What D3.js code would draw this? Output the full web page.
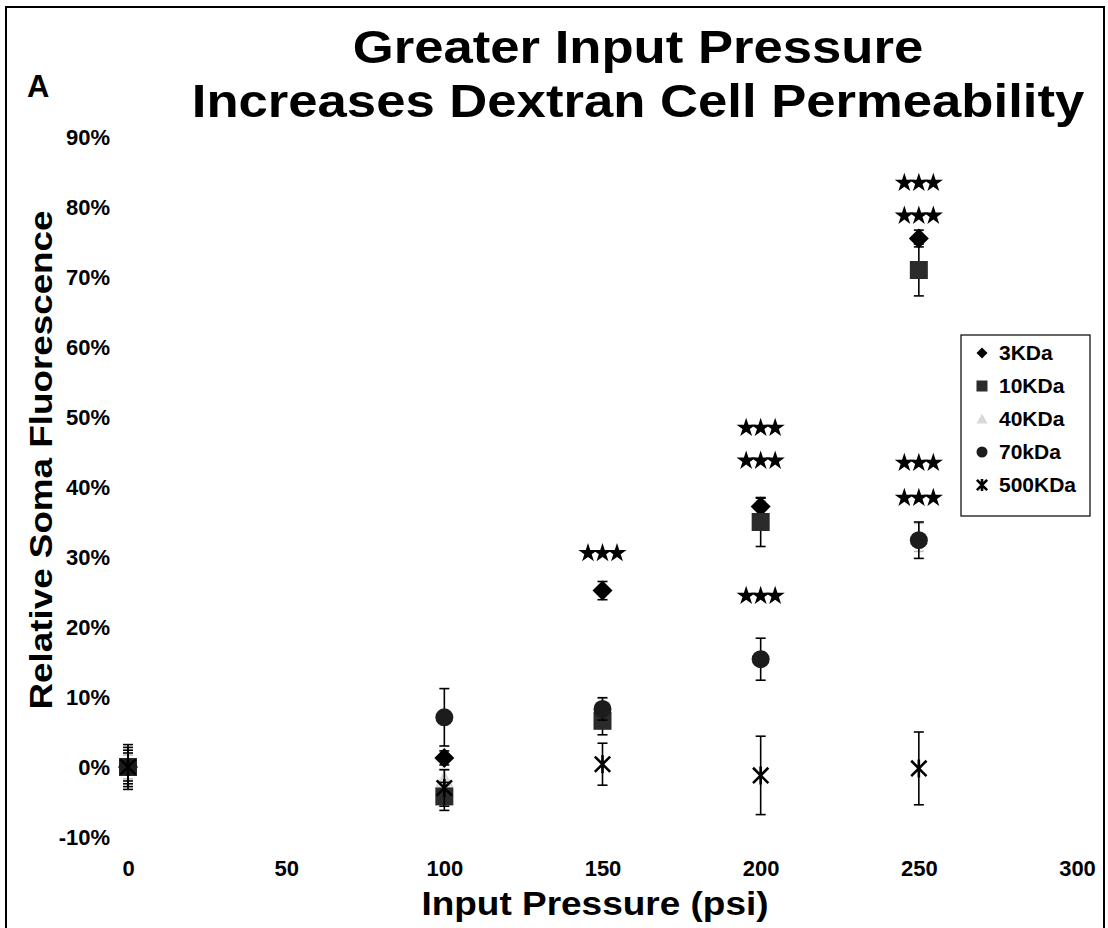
<!DOCTYPE html>
<html>
<head>
<meta charset="utf-8">
<script src="https://cdn.jsdelivr.net/npm/d3@7"></script>
<style>
  html, body { margin: 0; padding: 0; background: #fff; }
  svg { display: block; }
  text { font-family: "Liberation Sans", Arial, sans-serif; font-weight: bold; fill: #000; }
</style>
</head>
<body>
<svg id="chart" width="1108" height="928"></svg>
<script>
// Input pressures tested (psi)
const pressures = [0, 100, 150, 200, 250];

// Dextran sizes
const seriesNames = ["3KDa", "10KDa", "40KDa", "70kDa", "500KDa"];

// Mean relative soma fluorescence (%) per dextran size, one value per pressure
const mean3 = [0, 1.3, 25.2, 37.2, 75.5];
const mean10 = [0, -4.2, 6.6, 35.0, 71.0];
const mean40 = [0, -1.8, 8.6, 36.0, 32.8];
const mean70 = [0, 7.1, 8.3, 15.4, 32.4];
const mean500 = [0, -3.0, 0.4, -1.2, -0.2];

// Error (%) per dextran size, one value per pressure
const err3 = [3.2, 1.0, 1.3, 1.2, 1.2];
const err10 = [2.4, 2.0, 2.0, 3.5, 3.7];
const err40 = [1.7, 1.5, 1.2, 2.0, 2.0];
const err70 = [2.8, 4.1, 1.6, 3.0, 2.6];
const err500 = [2.0, 2.6, 3.0, 5.6, 5.2];

// Significance markers (***): pressure and height (%)
const sigPressure = [150, 200, 200, 200, 250, 250, 250, 250];
const sigLevel = [30.7, 48.6, 43.9, 24.6, 83.6, 78.9, 43.6, 38.6];

// Axis ticks
const xTicks = [0, 50, 100, 150, 200, 250, 300];
const yTicks = [-10, 0, 10, 20, 30, 40, 50, 60, 70, 80, 90];

const means = [mean3, mean10, mean40, mean70, mean500];
const errs = [err3, err10, err40, err70, err500];

const svg = d3.select("#chart");

// Outer frame (left, top, right edges)
svg.append("path")
  .attr("d", "M6,928V7H1104V928")
  .attr("fill", "none").attr("stroke", "#000").attr("stroke-width", 2);

const x = d3.scaleLinear().domain([0, 300]).range([128, 1077]);
const y = d3.scaleLinear().domain([-10, 90]).range([837, 137]);

// Widen a text element horizontally by factor k
function widen(sel, k) {
  const len = sel.node().getComputedTextLength();
  sel.attr("textLength", len * k).attr("lengthAdjust", "spacingAndGlyphs");
  return sel;
}

// Titles
widen(svg.append("text").attr("x", 638).attr("y", 63).attr("text-anchor", "middle")
  .style("font-size", "47px").text("Greater Input Pressure"), 1.12);
widen(svg.append("text").attr("x", 638).attr("y", 117).attr("text-anchor", "middle")
  .style("font-size", "47px").text("Increases Dextran Cell Permeability"), 1.12);
svg.append("text").attr("x", 27).attr("y", 97)
  .style("font-size", "31px").text("A");

// Y axis (labels only)
const yAxis = d3.axisLeft(y).tickValues(yTicks).tickSize(0).tickPadding(0)
  .tickFormat(d => d + "%");
const gy = svg.append("g").attr("transform", "translate(110,0)").call(yAxis);
gy.select(".domain").remove();
gy.selectAll("text").style("font-size", "22px").attr("dy", "0.35em")
  .style("font-family", "'Liberation Sans', Arial, sans-serif").style("font-weight", "bold");

// X axis (labels only)
const xAxis = d3.axisBottom(x).tickValues(xTicks).tickSize(0).tickPadding(0);
const gx = svg.append("g").attr("transform", "translate(0,860)").call(xAxis);
gx.select(".domain").remove();
gx.selectAll("text").style("font-size", "22px").attr("dy", "0.71em")
  .style("font-family", "'Liberation Sans', Arial, sans-serif").style("font-weight", "bold");

widen(svg.append("text").attr("x", 595).attr("y", 915).attr("text-anchor", "middle")
  .style("font-size", "33px").text("Input Pressure (psi)"), 1.12);
widen(svg.append("text")
  .attr("transform", "translate(52,460) rotate(-90)")
  .attr("text-anchor", "middle")
  .style("font-size", "32px").text("Relative Soma Fluorescence"), 1.15);

// Marker shapes
const styles = [
  { shape: "diamond", fill: "#000" },
  { shape: "square", fill: "#2b2b2b" },
  { shape: "triangle", fill: "#d9d9d9" },
  { shape: "circle", fill: "#1c1c1c" },
  { shape: "asterisk", fill: "#000" }
];

function drawMarker(g, shape, fill, s) {
  if (shape === "diamond") {
    g.append("path").attr("d", `M0,${-s}L${s},0L0,${s}L${-s},0Z`).attr("fill", fill);
  } else if (shape === "square") {
    g.append("rect").attr("x", -s).attr("y", -s).attr("width", 2 * s).attr("height", 2 * s).attr("fill", fill);
  } else if (shape === "triangle") {
    g.append("path").attr("d", `M0,${-s}L${s},${s * 0.8}L${-s},${s * 0.8}Z`).attr("fill", fill);
  } else if (shape === "circle") {
    g.append("circle").attr("r", s).attr("fill", fill);
  } else {
    const a = s * 0.85;
    g.append("path")
      .attr("d", `M${-a},${-a}L${a},${a}M${-a},${a}L${a},${-a}M0,${-s}L0,${s}`)
      .attr("stroke", fill).attr("stroke-width", 2.6).attr("fill", "none");
  }
}

// Error bars and markers; the pale 40KDa series sits underneath the others
const drawOrder = [2, 0, 1, 3, 4];
const plot = svg.append("g");
drawOrder.forEach(i => {
  const rows = pressures.map((p, j) => ({ p, m: means[i][j], e: errs[i][j] }));
  const stroke = i === 2 ? "#bdbdbd" : "#000";
  const eg = plot.append("g").attr("stroke", stroke).attr("stroke-width", 1.6);
  rows.forEach(r => {
    const cx = x(r.p);
    eg.append("line").attr("x1", cx).attr("x2", cx).attr("y1", y(r.m + r.e)).attr("y2", y(r.m - r.e));
    eg.append("line").attr("x1", cx - 5).attr("x2", cx + 5).attr("y1", y(r.m + r.e)).attr("y2", y(r.m + r.e));
    eg.append("line").attr("x1", cx - 5).attr("x2", cx + 5).attr("y1", y(r.m - r.e)).attr("y2", y(r.m - r.e));
  });
  rows.forEach(r => {
    const g = plot.append("g").attr("transform", `translate(${x(r.p)},${y(r.m)})`);
    drawMarker(g, styles[i].shape, styles[i].fill, i === 0 ? 10 : 9);
  });
});

// Significance stars
const starPath = d3.symbol().type(d3.symbolStar).size(115)();
sigPressure.forEach((p, k) => {
  const g = svg.append("g").attr("transform", `translate(${x(p)},${y(sigLevel[k])})`);
  [-14.5, 0, 14.5].forEach(dx => {
    g.append("path").attr("d", starPath).attr("transform", `translate(${dx},1)`).attr("fill", "#000");
  });
});

// Legend
const lg = svg.append("g");
lg.append("rect").attr("x", 961).attr("y", 335).attr("width", 129).attr("height", 181)
  .attr("fill", "#fff").attr("stroke", "#000").attr("stroke-width", 1.2);
seriesNames.forEach((name, i) => {
  const ly = 353 + i * 33;
  const g = lg.append("g").attr("transform", `translate(982,${ly})`);
  drawMarker(g, styles[i].shape, styles[i].fill, i === 4 ? 6 : 5.5);
  lg.append("text").attr("x", 999).attr("y", ly).attr("dy", "0.35em")
    .style("font-size", "21px").text(name);
});
</script>
</body>
</html>
